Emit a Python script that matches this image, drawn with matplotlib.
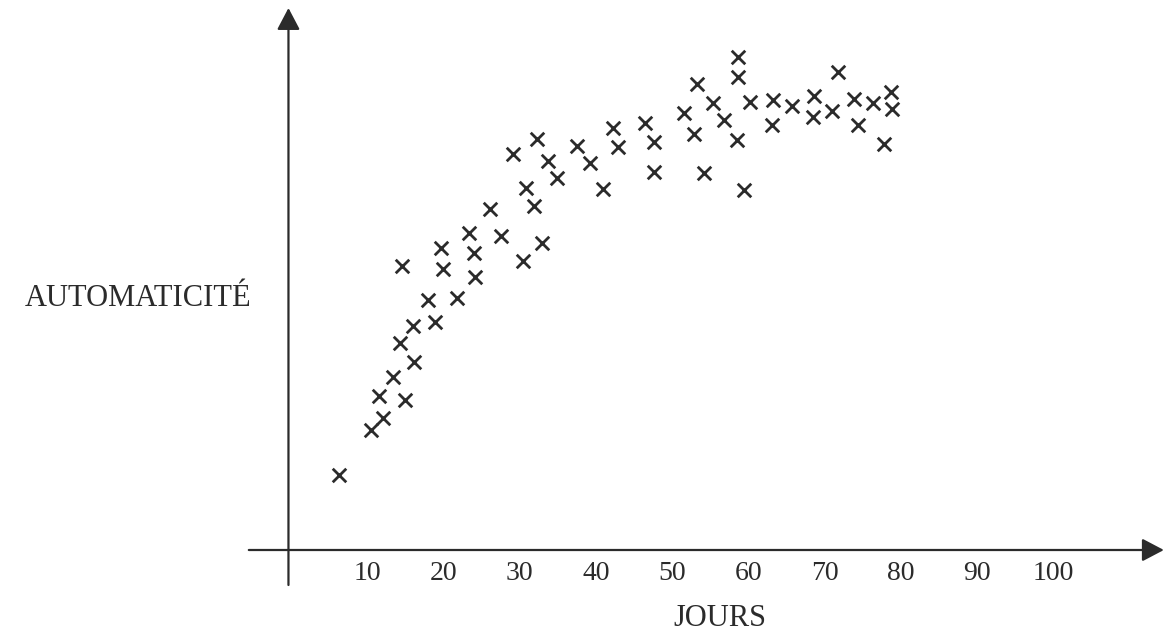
import matplotlib.pyplot as plt

# jours (x) et automaticité (y, unités arbitraires)
jours = [6.3, 10.5, 12.1, 11.6, 15.0, 13.4, 16.2, 14.3, 16.0, 18.9,
         18.0, 21.8, 14.6, 19.7, 20.0, 23.4, 24.0, 24.2, 26.1, 27.6,
         30.9, 31.9, 33.0, 30.5, 29.2, 32.3, 33.7, 34.9, 37.6, 39.3,
         41.0, 42.3, 42.9, 46.5, 47.6, 47.6, 51.6, 52.9, 53.3, 54.2,
         55.4, 56.8, 58.7, 58.7, 58.5, 59.4, 60.2, 63.3, 63.1, 65.7,
         68.6, 68.5, 71.0, 71.8, 73.9, 74.4, 76.4, 77.8, 78.7, 78.9]
automaticite = [15.0, 24.0, 26.4, 30.8, 30.0, 34.6, 37.6, 41.4, 44.8, 45.6,
                50.0, 50.4, 56.8, 60.4, 56.2, 63.4, 59.4, 54.6, 68.2, 62.8,
                72.4, 68.8, 61.4, 57.8, 79.2, 82.2, 77.8, 74.4, 80.8, 77.4,
                72.2, 84.4, 80.6, 85.4, 81.6, 75.6, 87.4, 83.2, 93.2, 75.4,
                89.4, 86.0, 98.6, 94.6, 82.0, 72.0, 89.6, 90.0, 85.0, 88.8,
                90.8, 86.6, 87.8, 95.6, 90.2, 85.0, 89.4, 81.2, 91.6, 88.2]
ticks = [10, 20, 30, 40, 50, 60, 70, 80, 90, 100]

INK = "#2b2b2b"
plt.rcParams.update({
    "font.family": ["Liberation Serif", "DejaVu Serif"],
})

fig = plt.figure(figsize=(11.64, 6.34), dpi=100)
ax = fig.add_axes([0, 0, 1, 1])
ax.axis("off")
ax.set_xlim(-38.13, 114.52)
ax.set_ylim(-16.8, 110)


def arrow(x1, y1, x2, y2):
    ax.annotate("", xy=(x2, y2), xytext=(x1, y1),
                arrowprops=dict(arrowstyle="-|>,head_length=0.95,head_width=0.5",
                                mutation_scale=14, lw=1.6, color=INK,
                                shrinkA=0, shrinkB=0))


# axes avec flèches
arrow(-5.5, 0, 114.5, 0)
arrow(-0.3, -7, -0.3, 108.4)

ax.scatter(jours, automaticite, marker="x", s=95, linewidths=2.0,
           color=INK, zorder=3)

for t in ticks:
    ax.text(t, -4.7, str(t), ha="center", va="center", fontsize=20, color=INK)

ax.text(56.3, -13.6, "JOURS", ha="center", va="center", fontsize=22, color=INK)
ax.text(-5.1, 50.4, "AUTOMATICITÉ", ha="right", va="center", fontsize=22,
        color=INK)

plt.savefig("out.png", dpi=100)
plt.close()
